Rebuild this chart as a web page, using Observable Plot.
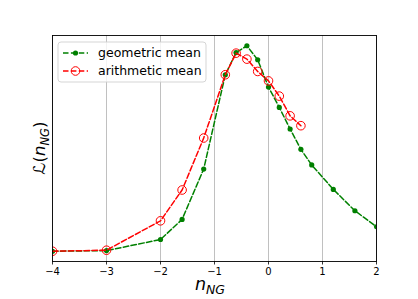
<!DOCTYPE html>
<html>
<head>
<meta charset="utf-8">
<script src="https://cdn.jsdelivr.net/npm/d3@7"></script>
<script src="https://cdn.jsdelivr.net/npm/@observablehq/plot@0.6"></script>
<style>
  html, body { margin: 0; padding: 0; background: #fff; }
  #chart svg { display: block; }
</style>
</head>
<body>
<div id="chart"></div>
<script>
// Data (normalized likelihood, arbitrary units)
const xGeo = [-4, -3, -2, -1.6, -1.2, -0.8, -0.6, -0.4, -0.2, 0, 0.2, 0.4, 0.6, 0.8, 1.2, 1.6, 2];
const yGeo = [0, 0.003, 0.057, 0.155, 0.40, 0.859, 0.967, 1.0, 0.932, 0.799, 0.700, 0.595, 0.496, 0.420, 0.301, 0.197, 0.119];
const xAri = [-4, -3, -2, -1.6, -1.2, -0.8, -0.6, -0.4, -0.2, 0, 0.2, 0.4, 0.6];
const yAri = [0, 0.005, 0.148, 0.298, 0.551, 0.859, 0.964, 0.935, 0.875, 0.829, 0.755, 0.659, 0.611];
const xTicks = [-4, -3, -2, -1, 0, 1, 2];
const seriesNames = ["geometric mean", "arithmetic mean"];

const geo = xGeo.map((x, i) => ({x, y: yGeo[i]}));
const ari = xAri.map((x, i) => ({x, y: yAri[i]}));

const W = 418, H = 299;
const mL = 52, mR = 42, mT = 35, mB = 38;

const plot = Plot.plot({
  width: W,
  height: H,
  marginLeft: mL,
  marginRight: mR,
  marginTop: mT,
  marginBottom: mB,
  style: {fontFamily: "DejaVu Sans", background: "white", color: "black"},
  x: {domain: [-4, 2]},
  y: {domain: [-0.05, 1.05], axis: null},
  marks: [
    Plot.gridX(xTicks, {stroke: "#b0b0b0", strokeOpacity: 1, strokeWidth: 0.8}),
    Plot.line(geo, {x: "x", y: "y", stroke: "green", strokeWidth: 1.5, strokeDasharray: "5.5,2.4", clip: true}),
    Plot.dot(geo, {x: "x", y: "y", r: 2.6, fill: "green", clip: true}),
    Plot.line(ari, {x: "x", y: "y", stroke: "red", strokeWidth: 1.5, strokeDasharray: "5.5,2.4", clip: true}),
    Plot.dot(ari, {x: "x", y: "y", r: 4.3, stroke: "red", fill: "none", strokeWidth: 1, clip: true}),
    Plot.axisX(xTicks, {tickSize: 3.5, tickPadding: 2.5, fontSize: 10, stroke: "black", strokeWidth: 0.8, label: null}),
    Plot.frame({stroke: "black", strokeWidth: 0.9})
  ]
});

document.getElementById("chart").appendChild(plot);

const svg = d3.select(plot);

// Axis labels
const xl = svg.append("text")
  .attr("x", (mL + (W - mR)) / 2 - 4)
  .attr("y", 289.5)
  .attr("text-anchor", "middle")
  .attr("font-family", "DejaVu Sans")
  .attr("font-style", "italic")
  .attr("font-size", 17.5)
  .attr("fill", "black");
xl.append("tspan").text("n");
xl.append("tspan").attr("font-size", 12.5).attr("dy", 4).text("NG");

const yl = svg.append("text")
  .attr("transform", `translate(45,${(mT + (H - mB)) / 2}) rotate(-90)`)
  .attr("text-anchor", "middle")
  .attr("font-family", "DejaVu Sans")
  .attr("font-size", 16.5)
  .attr("fill", "black");
yl.append("tspan").attr("font-style", "italic").text("ℒ");
yl.append("tspan").text("(");
yl.append("tspan").attr("font-style", "italic").text("n");
yl.append("tspan").attr("font-style", "italic").attr("font-size", 11.5).attr("dy", 3.5).text("NG");
yl.append("tspan").attr("dy", -3.5).text(")");

// Legend
const lg = svg.append("g");
lg.append("rect")
  .attr("x", 58).attr("y", 42).attr("width", 148).attr("height", 40)
  .attr("rx", 3).attr("fill", "white").attr("fill-opacity", 0.8)
  .attr("stroke", "#d0d0d0").attr("stroke-width", 0.9);
const colors = ["green", "red"];
seriesNames.forEach((name, i) => {
  const cy = 53 + i * 18;
  lg.append("line")
    .attr("x1", 63).attr("x2", 88).attr("y1", cy).attr("y2", cy)
    .attr("stroke", colors[i]).attr("stroke-width", 1.5)
    .attr("stroke-dasharray", "5.5,2.4");
  if (i === 0) {
    lg.append("circle").attr("cx", 75.5).attr("cy", cy).attr("r", 2.6).attr("fill", "green");
  } else {
    lg.append("circle").attr("cx", 75.5).attr("cy", cy).attr("r", 4.3)
      .attr("fill", "none").attr("stroke", "red").attr("stroke-width", 1);
  }
  lg.append("text")
    .attr("x", 98).attr("y", cy).attr("dy", "0.35em")
    .attr("text-anchor", "start")
    .attr("font-family", "DejaVu Sans").attr("font-size", 12.5)
    .attr("fill", "black").text(name);
});
</script>
</body>
</html>
